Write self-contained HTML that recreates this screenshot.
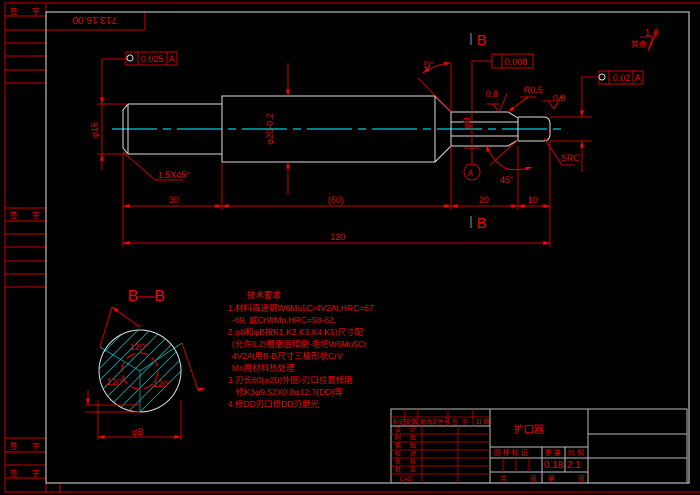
<!DOCTYPE html>
<html><head><meta charset="utf-8"><style>
html,body{margin:0;padding:0;background:#000;width:700px;height:495px;overflow:hidden}
svg{display:block}
text{font-family:"Liberation Sans","Noto Sans CJK SC",sans-serif;fill:#f00}
</style></head><body>
<svg width="700" height="495" viewBox="0 0 700 495" xmlns="http://www.w3.org/2000/svg">
<defs>
<marker id="ar" viewBox="0 0 10 6" refX="10" refY="3" markerWidth="8" markerHeight="4" orient="auto-start-reverse" markerUnits="userSpaceOnUse"><path d="M0,0L10,3L0,6z" fill="#f00"/></marker>
<clipPath id="cc"><circle cx="140" cy="371" r="41"/></clipPath>
</defs>
<!-- left strip -->
<g stroke="#c00" stroke-width="1" fill="none">
<line x1="5" y1="3" x2="5" y2="492"/>
<line x1="5" y1="3" x2="700" y2="3"/>
<line x1="5" y1="492" x2="700" y2="492"/>
<line x1="5" y1="16" x2="46" y2="16"/><line x1="5" y1="30" x2="46" y2="30"/><line x1="5" y1="43" x2="46" y2="43"/><line x1="5" y1="56" x2="46" y2="56"/><line x1="5" y1="70" x2="46" y2="70"/><line x1="5" y1="83" x2="46" y2="83"/>
<line x1="5" y1="208" x2="46" y2="208"/><line x1="5" y1="221" x2="46" y2="221"/><line x1="5" y1="234" x2="46" y2="234"/><line x1="5" y1="247" x2="46" y2="247"/><line x1="5" y1="261" x2="46" y2="261"/><line x1="5" y1="274" x2="46" y2="274"/><line x1="5" y1="287" x2="46" y2="287"/>
<line x1="5" y1="438" x2="46" y2="438"/><line x1="5" y1="452" x2="46" y2="452"/><line x1="5" y1="465" x2="46" y2="465"/><line x1="5" y1="478" x2="46" y2="478"/>
<line x1="46" y1="3" x2="46" y2="12"/>
<rect x="46" y="12" width="99" height="18"/>
<line x1="46" y1="483" x2="46" y2="492"/><line x1="60" y1="483" x2="60" y2="492"/>
</g>
<g font-size="8"><text x="10" y="14">签</text><text x="32" y="14">字</text><text x="10" y="218">签</text><text x="32" y="218">字</text><text x="10" y="449">签</text><text x="32" y="449">字</text><text x="10" y="476">签</text><text x="32" y="476">字</text></g>
<text x="95" y="25" font-size="10" text-anchor="middle" transform="rotate(180 95 21)">713.16.00</text>
<!-- gray frame -->
<rect x="46" y="12" width="643" height="471" stroke="#bbb" fill="none" stroke-width="1.2"/>
<!-- centerline -->
<line x1="112" y1="129" x2="563" y2="129" stroke="#0aa" stroke-width="1.5" stroke-dasharray="45,6,8,6"/>
<!-- shaft -->
<g stroke="#ddd" stroke-width="1" fill="none">
<path d="M128,104 L222,104 M128,154 L222,154 M128,104 L123,110 L123,148 L128,154 M128,104 L128,154"/>
<rect x="222" y="96" width="213" height="66"/>
<path d="M435,96 L451,112 L451,146 L435,162"/>
<path d="M451,112 L508,112 L518,118 L518,140 L508,146 L451,146 M451,122 L518,122 M451,136 L518,136"/>
<path d="M518,117 L543,117 Q550,117 550,124 L550,134 Q550,141 543,141 L518,141"/>
</g>
<!-- dims -->
<g stroke="#f00" stroke-width="0.8" fill="none">
<line x1="123" y1="154" x2="123" y2="247"/><line x1="222" y1="162" x2="222" y2="210"/><line x1="451" y1="146" x2="451" y2="210"/><line x1="518" y1="146" x2="518" y2="210"/><line x1="550" y1="141" x2="550" y2="247"/>
<line x1="123" y1="206" x2="222" y2="206" marker-start="url(#ar)" marker-end="url(#ar)"/>
<line x1="222" y1="206" x2="451" y2="206" marker-start="url(#ar)" marker-end="url(#ar)"/>
<line x1="451" y1="206" x2="518" y2="206" marker-start="url(#ar)" marker-end="url(#ar)"/>
<line x1="518" y1="206" x2="550" y2="206" marker-start="url(#ar)" marker-end="url(#ar)"/>
<line x1="123" y1="243" x2="550" y2="243" marker-start="url(#ar)" marker-end="url(#ar)"/>
<line x1="97" y1="104" x2="128" y2="104"/><line x1="97" y1="154" x2="128" y2="154"/>
<line x1="102" y1="59" x2="102" y2="104" marker-end="url(#ar)"/><line x1="102" y1="154" x2="102" y2="170" marker-start="url(#ar)"/>
<line x1="102" y1="104" x2="102" y2="154"/>
<line x1="102" y1="59" x2="126" y2="59"/>
<rect x="126" y="52" width="51" height="13"/><line x1="138" y1="52" x2="138" y2="65"/><line x1="167" y1="52" x2="167" y2="65"/>
<line x1="288" y1="63" x2="288" y2="96" marker-end="url(#ar)"/><line x1="288" y1="162" x2="288" y2="195" marker-start="url(#ar)"/>
<line x1="123" y1="152" x2="155" y2="180"/><line x1="155" y1="180" x2="183" y2="180"/>
<line x1="418" y1="78" x2="451" y2="112"/><line x1="451" y1="64" x2="451" y2="112"/>
<path d="M423,73 Q436,64 451,63" marker-start="url(#ar)" marker-end="url(#ar)"/>
<rect x="492" y="54" width="41" height="14"/><line x1="502" y1="54" x2="502" y2="68"/>
<path d="M492,61 L472,61 L472,164"/>
<circle cx="472" cy="172" r="8"/>
<line x1="464" y1="148" x2="480" y2="148"/>
<path d="M486,145 Q492,160 505,168 Q515,172 532,167" marker-start="url(#ar)" marker-end="url(#ar)"/>
<line x1="490" y1="165" x2="518" y2="140"/>
<path d="M493,104 L499,112 L507,94" /><line x1="487" y1="104" x2="499" y2="104"/>
<path d="M520,97 L536,97 M528,97 L508,112" marker-end="url(#ar)"/>
<path d="M548,101 L554,109 L562,95"/><line x1="543" y1="101" x2="554" y2="101"/>
<line x1="550" y1="117" x2="592" y2="117"/><line x1="550" y1="141" x2="592" y2="141"/>
<line x1="582" y1="100" x2="582" y2="117" marker-end="url(#ar)"/><line x1="582" y1="141" x2="582" y2="172" marker-start="url(#ar)"/>
<path d="M599,77 L582,77 L582,100"/>
<rect x="599" y="71" width="44" height="13"/><line x1="609" y1="71" x2="609" y2="84"/><line x1="633" y1="71" x2="633" y2="84"/>
<path d="M544,138 L562,165 L575,165"/>
<path d="M640,37 L653,37 L648,51 L658,30"/>
<line x1="471" y1="33" x2="471" y2="45" stroke="#bbb"/><line x1="471" y1="216" x2="471" y2="228" stroke="#bbb"/>
</g>
<g stroke="#ddd" fill="none"><circle cx="130" cy="58" r="3"/><circle cx="602" cy="77" r="3"/></g>
<g font-size="9" font-family="Liberation Serif">
<text x="141" y="62">0.025</text><text x="169" y="62">A</text>
<text x="98" y="130" transform="rotate(-90 98 130)" text-anchor="middle">φ15</text>
<text x="273" y="129" transform="rotate(-90 273 129)" text-anchor="middle">φ20-0.2</text>
<text x="158" y="178">1.5X45°</text>
<text x="174" y="203" text-anchor="middle">30</text>
<text x="336" y="203" text-anchor="middle">(60)</text>
<text x="484" y="203" text-anchor="middle">20</text>
<text x="533" y="203" text-anchor="middle">10</text>
<text x="338" y="240" text-anchor="middle">120</text>
<text x="424" y="68">D°</text>
<text x="505" y="65">0.008</text>
<text x="466" y="133" transform="rotate(-90 466 129)">φB</text>
<text x="468" y="176" font-size="8">A</text>
<text x="500" y="183">45°</text>
<text x="486" y="97">0.8</text>
<text x="524" y="93">R0.5</text>
<text x="553" y="101">0.8</text>
<text x="561" y="161">SRC</text>
<text x="613" y="81">0.02</text><text x="635" y="81">A</text>
<text x="645" y="36" font-size="10">1.6</text>
<text x="631" y="47" font-size="8">其余</text>
<text x="477" y="45" font-size="15">B</text>
<text x="477" y="228" font-size="15">B</text>
<text x="128" y="301" font-size="16">B—B</text>
</g>
<!-- section -->
<g clip-path="url(#cc)" stroke="#0aa" stroke-width="0.8">
<line x1="60" y1="420" x2="160" y2="320"/><line x1="72" y1="420" x2="172" y2="320"/><line x1="84" y1="420" x2="184" y2="320"/><line x1="96" y1="420" x2="196" y2="320"/><line x1="108" y1="420" x2="208" y2="320"/><line x1="120" y1="420" x2="220" y2="320"/><line x1="48" y1="420" x2="148" y2="320"/><line x1="36" y1="420" x2="136" y2="320"/><line x1="24" y1="420" x2="124" y2="320"/><line x1="132" y1="420" x2="232" y2="320"/>
</g>
<g stroke="#0aa" stroke-width="0.8"><line x1="140" y1="371" x2="100" y2="347"/><line x1="140" y1="371" x2="182" y2="343"/><line x1="140" y1="371" x2="140" y2="412"/></g>
<circle cx="140" cy="371" r="41" stroke="#ddd" fill="none"/>
<circle cx="140" cy="371" r="18" stroke="#f00" fill="none" stroke-dasharray="10,4"/>
<g stroke="#f00" stroke-width="0.8" fill="none">
<line x1="112" y1="307" x2="140" y2="327" marker-start="url(#ar)"/><line x1="112" y1="307" x2="100" y2="347"/>
<line x1="182" y1="343" x2="198" y2="390"/><line x1="198" y1="390" x2="205" y2="388" marker-end="url(#ar)"/>
<line x1="98" y1="400" x2="98" y2="440"/><line x1="181" y1="400" x2="181" y2="440"/>
<line x1="98" y1="437" x2="181" y2="437" marker-start="url(#ar)" marker-end="url(#ar)"/>
<line x1="85" y1="405" x2="140" y2="405"/><line x1="85" y1="412" x2="140" y2="412"/>
<line x1="88" y1="390" x2="88" y2="405" marker-end="url(#ar)"/>
</g>
<g font-size="9" font-family="Liberation Serif"><text x="130" y="350">120°</text><text x="107" y="385">120°</text><text x="153" y="387">120°</text><text x="132" y="435">φB</text></g>
<!-- notes -->
<g font-size="8.5">
<text x="247" y="298">技术要求</text>
<text x="228" y="311">1.材料高速钢W6Mo5Cr4V2Al,HRC=67</text>
<text x="232" y="323">-69, 或CrWMn,HRC=58-62.</text>
<text x="228" y="335">2.φ8和φB按K1.K2.K3.K4.K5)尺寸配</text>
<text x="232" y="347">(允许0.2)粗磨后精磨-毛坯W6Mo5Cr</text>
<text x="232" y="359">4V2Al用B-B尺寸三棱形状CrV</text>
<text x="232" y="371">Mn用材料热处理</text>
<text x="228" y="383">3.刃长60(φ20)外圆-刃口位置修磨</text>
<text x="236" y="395">修K3φ9.52X0.8φ12.7(DD)等</text>
<text x="228" y="407">4.修DD刃口修DD刃磨光</text>
</g>
<!-- title block -->
<g stroke="#bbb" stroke-width="1" fill="none">
<rect x="391" y="409" width="296" height="74"/>
<line x1="490" y1="409" x2="490" y2="483"/><line x1="588" y1="409" x2="588" y2="483"/>
<line x1="391" y1="426" x2="490" y2="426"/>
<line x1="490" y1="447" x2="588" y2="447"/><line x1="490" y1="458" x2="687" y2="458"/><line x1="490" y1="472" x2="588" y2="472"/>
<line x1="588" y1="434" x2="687" y2="434"/>
<line x1="542" y1="447" x2="542" y2="483"/><line x1="565" y1="447" x2="565" y2="472"/>
</g>
<g stroke="#c00" stroke-width="0.8">
<line x1="391" y1="417" x2="490" y2="417"/>
<line x1="391" y1="434" x2="490" y2="434"/><line x1="391" y1="442" x2="490" y2="442"/><line x1="391" y1="450" x2="490" y2="450"/><line x1="391" y1="458" x2="490" y2="458"/><line x1="391" y1="466" x2="490" y2="466"/><line x1="391" y1="474" x2="490" y2="474"/>
<line x1="405" y1="409" x2="405" y2="426"/><line x1="418" y1="409" x2="418" y2="426"/><line x1="448" y1="409" x2="448" y2="426"/><line x1="473" y1="409" x2="473" y2="426"/>
<line x1="422" y1="426" x2="422" y2="483"/><line x1="458" y1="426" x2="458" y2="483"/>
<line x1="503" y1="458" x2="503" y2="472"/><line x1="516" y1="458" x2="516" y2="472"/><line x1="529" y1="458" x2="529" y2="472"/>
</g>
<g font-size="6"><text x="393" y="424">标记</text><text x="406" y="424">处数</text><text x="420" y="424">更改文件号</text><text x="452" y="424">签</text><text x="462" y="424">字</text><text x="476" y="424">日 期</text>
<text x="395" y="432">设</text><text x="410" y="432">计</text><text x="395" y="440">制</text><text x="410" y="440">图</text><text x="395" y="448">描</text><text x="410" y="448">图</text><text x="395" y="456">校</text><text x="410" y="456">对</text><text x="395" y="464">审</text><text x="410" y="464">核</text><text x="395" y="472">批</text><text x="410" y="472">准</text><text x="400" y="481">CAD</text></g>
<text x="514" y="433" font-size="10">扩口器</text>
<g font-size="7"><text x="494" y="455">图 样 标 记</text><text x="545" y="455">重 量</text><text x="568" y="455">比 例</text><text x="500" y="481">共</text><text x="530" y="481">页</text><text x="548" y="481">第</text><text x="578" y="481">页</text></g>
<g font-size="10" font-family="Liberation Serif"><text x="544" y="468">0.18</text><text x="567" y="468">2:1</text></g>
</svg>
</body></html>
